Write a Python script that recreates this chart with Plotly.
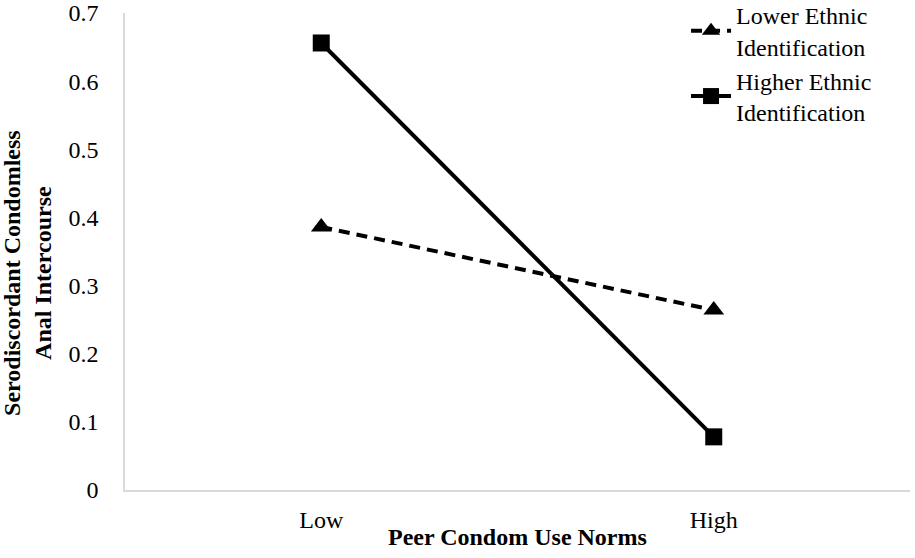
import plotly.graph_objects as go

categories = ['Low', 'High']
lower_ethnic = [0.386, 0.264]
higher_ethnic = [0.656, 0.078]
y_ticks = [0, 0.1, 0.2, 0.3, 0.4, 0.5, 0.6, 0.7]
y_tick_labels = ['0', '0.1', '0.2', '0.3', '0.4', '0.5', '0.6', '0.7']

font_family = 'Liberation Serif'

fig = go.Figure()
fig.add_trace(go.Scatter(
    x=categories, y=lower_ethnic,
    mode='lines+markers',
    name='Lower Ethnic<br>Identification',
    line=dict(color='black', width=4, dash='11px,7px'),
    marker=dict(symbol='triangle-up', size=18, color='black')
))
fig.add_trace(go.Scatter(
    x=categories, y=higher_ethnic,
    mode='lines+markers',
    name='Higher Ethnic<br>Identification',
    line=dict(color='black', width=4),
    marker=dict(symbol='square', size=17, color='black')
))

fig.update_layout(
    width=915, height=558,
    margin=dict(l=125, r=5, t=13, b=68, autoexpand=False),
    plot_bgcolor='white', paper_bgcolor='white',
    font=dict(family=font_family, size=24, color='black'),
    showlegend=True,
    legend=dict(
        x=0.958, y=1.042, xanchor='right', yanchor='top',
        bgcolor='rgba(0,0,0,0)', font=dict(size=24),
        itemwidth=40, tracegroupgap=2
    ),
    xaxis=dict(
        type='category', range=[-0.5, 1.5],
        showline=True, linecolor='#d9d9d9', linewidth=1.5,
        showgrid=False, zeroline=False, ticks='',
        ticklabelstandoff=7
    ),
    yaxis=dict(
        range=[0, 0.7], tickvals=y_ticks, ticktext=y_tick_labels,
        showline=True, linecolor='#d9d9d9', linewidth=1.5,
        showgrid=False, zeroline=False, ticks='',
        ticklabelstandoff=20
    ),
    annotations=[
        dict(
            text='<b>Serodiscordant Condomless<br>Anal Intercourse</b>',
            xref='paper', yref='paper', x=-0.1236, y=0.455,
            xanchor='center', yanchor='middle', textangle=-90,
            showarrow=False, font=dict(size=24)
        ),
        dict(
            text='<b>Peer Condom Use Norms</b>',
            xref='paper', yref='paper', x=0.5, y=-0.098,
            xanchor='center', yanchor='middle',
            showarrow=False, font=dict(size=24)
        )
    ]
)

# drop the browser's default body margin so the chart sits at the page corner
fig.write_html(
    "out.html",
    config={'displayModeBar': False},
    post_script="document.body.style.margin='0';document.body.style.overflow='hidden';"
)
